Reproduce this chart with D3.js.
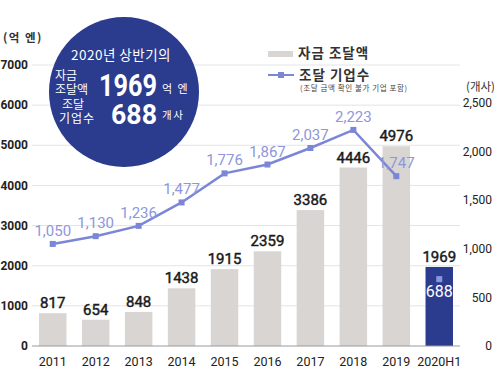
<!DOCTYPE html>
<html>
<head>
<meta charset="utf-8">
<script src="https://cdn.jsdelivr.net/npm/d3@7"></script>
<style>
  body { margin: 0; background: #fff; }
  svg { display: block; }
  .num { font-family: "Liberation Sans Narrow", "Roboto", "DejaVu Sans Condensed", sans-serif; }
  .kr { font-family: "Noto Sans CJK KR", "Noto Sans", sans-serif; }
</style>
</head>
<body>
<div id="chart"></div>
<script>
const years = ["2011", "2012", "2013", "2014", "2015", "2016", "2017", "2018", "2019", "2020H1"];
const funding = [817, 654, 848, 1438, 1915, 2359, 3386, 4446, 4976, 1969];
const companies = [1050, 1130, 1236, 1477, 1776, 1867, 2037, 2223, 1747, 688];
const leftTicks = [0, 1000, 2000, 3000, 4000, 5000, 6000, 7000];
const rightTicks = [0, 500, 1000, 1500, 2000, 2500];

const width = 498;
const height = 376;
const barColor = "#d9d5d2";
const navy = "#2b3b8e";
const lineColor = "#7b87d6";
const lineText = "#8d97dc";

const svg = d3.select("#chart")
  .append("svg")
  .attr("width", width)
  .attr("height", height);

const x = d3.scaleBand()
  .domain(years)
  .range([39, 453])
  .paddingInner(0.36)
  .paddingOuter(0);

const y = d3.scaleLinear().domain([0, 7000]).range([346, 65]);
const y2 = d3.scaleLinear().domain([0, 2500]).range([346, 103]);

// gridlines
svg.append("g")
  .selectAll("line")
  .data(leftTicks.filter(d => d > 0))
  .join("line")
  .attr("x1", 32)
  .attr("x2", 460)
  .attr("y1", d => y(d))
  .attr("y2", d => y(d))
  .attr("stroke", "#e4e4e4")
  .attr("stroke-width", 1);

// left tick labels
svg.append("g")
  .selectAll("text")
  .data(leftTicks)
  .join("text")
  .attr("class", "num")
  .attr("x", 28)
  .attr("y", d => y(d))
  .attr("dy", "0.35em")
  .attr("text-anchor", "end")
  .style("font-size", "12px")
  .style("font-weight", "bold")
  .attr("fill", "#222")
  .text(d => d);

svg.append("text")
  .attr("class", "kr")
  .attr("x", 3)
  .attr("y", 42)
  .style("font-size", "11.5px")
  .style("font-weight", "bold")
  .style("letter-spacing", "1.5px")
  .attr("fill", "#333")
  .text("(억 엔)");

// right tick labels
svg.append("g")
  .selectAll("text")
  .data(rightTicks)
  .join("text")
  .attr("class", "num")
  .attr("x", 492)
  .attr("y", d => y2(d))
  .attr("dy", "0.35em")
  .attr("text-anchor", "end")
  .style("font-size", "12px")
  .attr("fill", "#222")
  .text(d => d3.format(",")(d));

svg.append("text")
  .attr("class", "kr")
  .attr("x", 495)
  .attr("y", 91)
  .attr("text-anchor", "end")
  .style("font-size", "11.5px")
  .attr("fill", "#333")
  .text("(개사)");

// bars
svg.append("g")
  .selectAll("rect")
  .data(years)
  .join("rect")
  .attr("x", d => x(d))
  .attr("width", x.bandwidth())
  .attr("y", (d, i) => y(funding[i]))
  .attr("height", (d, i) => y(0) - y(funding[i]))
  .attr("fill", d => d === "2020H1" ? navy : barColor);

// bar labels
svg.append("g")
  .selectAll("text")
  .data(years)
  .join("text")
  .attr("class", "num")
  .attr("x", d => x(d) + x.bandwidth() / 2)
  .attr("y", (d, i) => y(funding[i]) - 5)
  .attr("text-anchor", "middle")
  .style("font-size", "15px")
  .attr("fill", "#1a1a1a")
  .attr("stroke", "#1a1a1a")
  .attr("stroke-width", 0.45)
  .text((d, i) => funding[i]);

// baseline
svg.append("line")
  .attr("x1", 32)
  .attr("x2", 460)
  .attr("y1", y(0))
  .attr("y2", y(0))
  .attr("stroke", "#9a9a9a")
  .attr("stroke-width", 1);

// x labels
svg.append("g")
  .selectAll("text")
  .data(years)
  .join("text")
  .attr("class", "num")
  .attr("x", d => x(d) + x.bandwidth() / 2)
  .attr("y", 366)
  .attr("text-anchor", "middle")
  .style("font-size", "12.5px")
  .attr("fill", "#222")
  .text(d => d);

// company line (2011-2019)
const lineYears = years.slice(0, 9);
const line = d3.line()
  .x(d => x(d) + x.bandwidth() / 2)
  .y((d, i) => y2(companies[i]));

svg.append("path")
  .datum(lineYears)
  .attr("fill", "none")
  .attr("stroke", lineColor)
  .attr("stroke-width", 2.5)
  .attr("d", line);

svg.append("g")
  .selectAll("rect")
  .data(years)
  .join("rect")
  .attr("x", d => x(d) + x.bandwidth() / 2 - 3)
  .attr("y", (d, i) => y2(companies[i]) - 3)
  .attr("width", 6)
  .attr("height", 6)
  .attr("fill", d => d === "2020H1" ? "#8a95e0" : lineColor);

svg.append("g")
  .selectAll("text")
  .data(years)
  .join("text")
  .attr("class", "num")
  .attr("x", d => x(d) + x.bandwidth() / 2)
  .attr("y", (d, i) => d === "2020H1" ? y2(companies[i]) + 18 : y2(companies[i]) - 8)
  .attr("text-anchor", "middle")
  .style("font-size", d => d === "2020H1" ? "16px" : "15px")
  .attr("fill", d => d === "2020H1" ? "#fff" : lineText)
  .text((d, i) => d3.format(",")(companies[i]));

// legend
svg.append("rect")
  .attr("x", 268)
  .attr("y", 51)
  .attr("width", 25)
  .attr("height", 6)
  .attr("fill", barColor);

svg.append("text")
  .attr("class", "kr")
  .attr("x", 298)
  .attr("y", 58)
  .style("font-size", "13.5px")
  .style("font-weight", "bold")
  .style("letter-spacing", "1px")
  .attr("fill", "#333")
  .text("자금 조달액");

svg.append("line")
  .attr("x1", 268)
  .attr("x2", 294)
  .attr("y1", 75)
  .attr("y2", 75)
  .attr("stroke", lineColor)
  .attr("stroke-width", 2);

svg.append("rect")
  .attr("x", 278)
  .attr("y", 72)
  .attr("width", 6)
  .attr("height", 6)
  .attr("fill", lineColor);

svg.append("text")
  .attr("class", "kr")
  .attr("x", 299)
  .attr("y", 80)
  .style("font-size", "13.5px")
  .style("font-weight", "bold")
  .style("letter-spacing", "1px")
  .attr("fill", "#333")
  .text("조달 기업수");

svg.append("text")
  .attr("class", "kr")
  .attr("x", 300)
  .attr("y", 91)
  .style("font-size", "7.5px")
  .style("letter-spacing", "0.6px")
  .attr("fill", "#444")
  .text("(조달 금액 확인 불가 기업 포함)");

// highlight circle
const badge = svg.append("g");
badge.append("circle")
  .attr("cx", 124)
  .attr("cy", 92)
  .attr("r", 75)
  .attr("fill", navy);

badge.append("text")
  .attr("class", "kr")
  .attr("x", 121)
  .attr("y", 60)
  .attr("text-anchor", "middle")
  .style("font-size", "13.5px")
  .style("letter-spacing", "0.5px")
  .attr("fill", "#fff")
  .text("2020년 상반기의");

badge.append("text")
  .attr("class", "kr")
  .attr("x", 55)
  .attr("y", 80)
  .style("font-size", "12px")
  .attr("fill", "#fff")
  .text("자금");

badge.append("text")
  .attr("class", "kr")
  .attr("x", 55)
  .attr("y", 94)
  .style("font-size", "12px")
  .attr("fill", "#fff")
  .text("조달액");

badge.append("text")
  .attr("class", "num")
  .attr("x", 99)
  .attr("y", 96)
  .attr("textLength", 58)
  .attr("lengthAdjust", "spacingAndGlyphs")
  .style("font-size", "32px")
  .style("font-weight", "bold")
  .attr("fill", "#fff")
  .text(funding[9]);

badge.append("text")
  .attr("class", "kr")
  .attr("x", 162)
  .attr("y", 93)
  .style("font-size", "11px")
  .style("letter-spacing", "1.5px")
  .attr("fill", "#fff")
  .text("억 엔");

badge.append("text")
  .attr("class", "kr")
  .attr("x", 62)
  .attr("y", 109)
  .style("font-size", "12px")
  .attr("fill", "#fff")
  .text("조달");

badge.append("text")
  .attr("class", "kr")
  .attr("x", 59)
  .attr("y", 123)
  .style("font-size", "12px")
  .style("letter-spacing", "1px")
  .attr("fill", "#fff")
  .text("기업수");

badge.append("text")
  .attr("class", "num")
  .attr("x", 111)
  .attr("y", 124)
  .attr("textLength", 46)
  .attr("lengthAdjust", "spacingAndGlyphs")
  .style("font-size", "28px")
  .style("font-weight", "bold")
  .attr("fill", "#fff")
  .text(companies[9]);

badge.append("text")
  .attr("class", "kr")
  .attr("x", 162)
  .attr("y", 119)
  .style("font-size", "10.5px")
  .style("letter-spacing", "1.5px")
  .attr("fill", "#fff")
  .text("개사");
</script>
</body>
</html>
